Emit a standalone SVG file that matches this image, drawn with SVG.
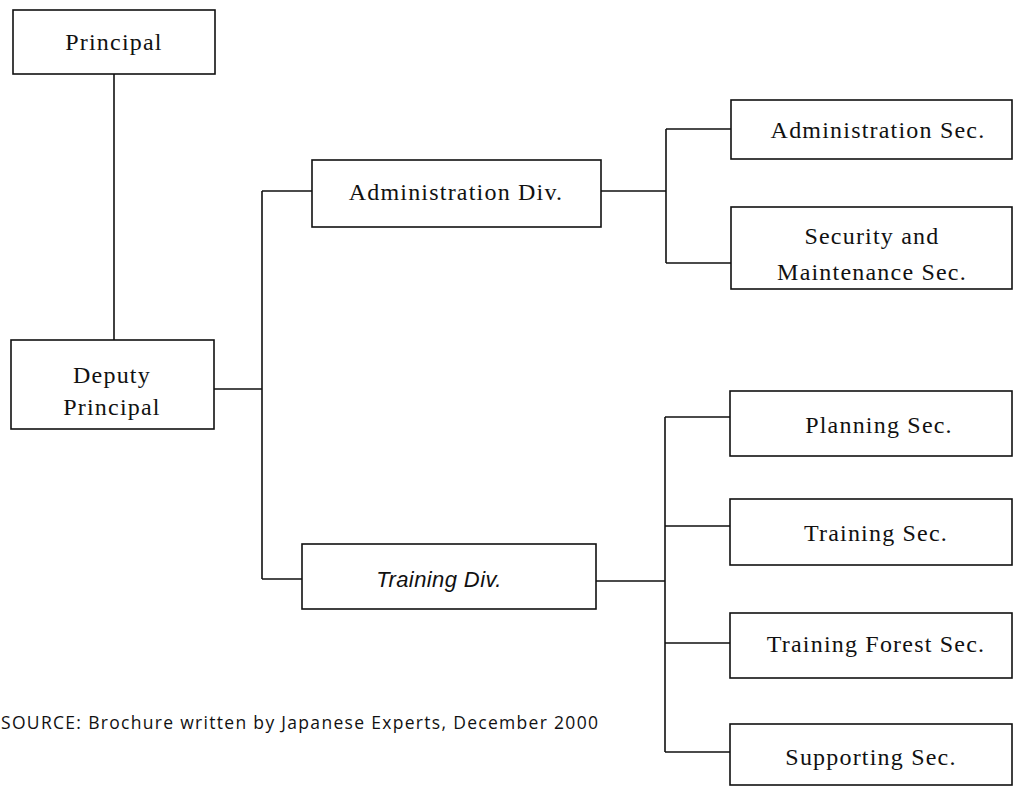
<svg xmlns="http://www.w3.org/2000/svg" width="1014" height="789" viewBox="0 0 1014 789">
  <style>
    .box { fill: #ffffff; stroke: #111111; stroke-width: 1.6; }
    .link { fill: none; stroke: #111111; stroke-width: 1.6; }
    .lbl { font-family: "Liberation Serif", "Times New Roman", serif; font-size: 24px; letter-spacing: 1.2px; fill: #111111; text-anchor: middle; }
    .ital { font-family: "Liberation Sans", Arial, sans-serif; font-style: italic; font-size: 22px; letter-spacing: 0.4px; fill: #111111; text-anchor: middle; }
    .note { font-family: "Open Sans", "Liberation Sans", sans-serif; font-size: 17.5px; fill: #111111; }
  </style>
  <rect width="1014" height="789" fill="#ffffff"/>

  <!-- connectors -->
  <g id="connectors">
    <path class="link" d="M114,74 V340"/>
    <path class="link" d="M214,389 H262 M262,191 V579 M262,191 H312 M262,579 H302"/>
    <path class="link" d="M601,191 H666 M666,129 V263 M666,129 H731 M666,263 H731"/>
    <path class="link" d="M596,581 H665 M665,417 V752 M665,417 H730 M665,526 H730 M665,643 H730 M665,752 H730"/>
  </g>

  <g id="principal">
    <rect class="box" x="13" y="10" width="202" height="64"/>
    <text class="lbl" x="114" y="50">Principal</text>
  </g>
  <g id="deputy-principal">
    <rect class="box" x="11" y="340" width="203" height="89"/>
    <text class="lbl" x="112" y="383">Deputy</text>
    <text class="lbl" x="112" y="415">Principal</text>
  </g>
  <g id="administration-div">
    <rect class="box" x="312" y="160" width="289" height="67"/>
    <text class="lbl" x="456" y="200">Administration Div.</text>
  </g>
  <g id="training-div">
    <rect class="box" x="302" y="544" width="294" height="65"/>
    <text class="ital" x="439" y="587">Training Div.</text>
  </g>
  <g id="administration-sec">
    <rect class="box" x="731" y="100" width="281" height="59"/>
    <text class="lbl" x="878" y="138">Administration Sec.</text>
  </g>
  <g id="security-maintenance-sec">
    <rect class="box" x="731" y="207" width="281" height="82"/>
    <text class="lbl" x="872" y="244">Security and</text>
    <text class="lbl" x="872" y="280">Maintenance Sec.</text>
  </g>
  <g id="planning-sec">
    <rect class="box" x="730" y="391" width="282" height="65"/>
    <text class="lbl" x="879" y="433">Planning Sec.</text>
  </g>
  <g id="training-sec">
    <rect class="box" x="730" y="499" width="282" height="66"/>
    <text class="lbl" x="876" y="541">Training Sec.</text>
  </g>
  <g id="training-forest-sec">
    <rect class="box" x="730" y="613" width="282" height="65"/>
    <text class="lbl" x="876" y="652">Training Forest Sec.</text>
  </g>
  <g id="supporting-sec">
    <rect class="box" x="730" y="724" width="282" height="61"/>
    <text class="lbl" x="871" y="765">Supporting Sec.</text>
  </g>

  <text class="note" x="1" y="729" textLength="597" lengthAdjust="spacing">SOURCE: Brochure written by Japanese Experts, December 2000</text>
</svg>
